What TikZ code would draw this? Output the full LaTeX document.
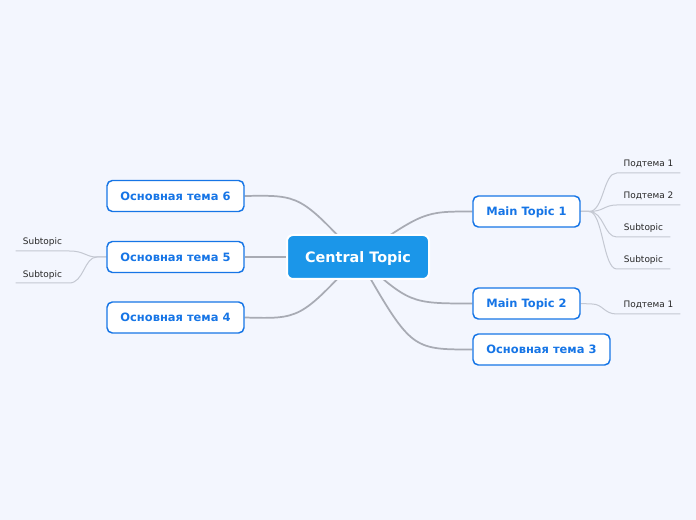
\documentclass[tikz,border=0pt]{standalone}
\usepackage{fontspec}
\setmainfont{DejaVu Sans}
\definecolor{bgc}{RGB}{243,246,254}
\definecolor{mainblue}{RGB}{22,117,230}
\definecolor{ctrblue}{RGB}{27,150,233}
\definecolor{conn}{RGB}{168,171,180}
\definecolor{subconn}{RGB}{196,200,210}
\definecolor{subtext}{RGB}{40,40,40}
\pgfdeclarelayer{bglayer}
\pgfdeclarelayer{lines}
\pgfsetlayers{bglayer,lines,main}
\begin{document}
\begin{tikzpicture}[x=0.75pt,y=-0.75pt,
 central/.style={fill=ctrblue,draw=white,line width=1.5pt,rounded corners=4.5pt,minimum width=106.5pt,minimum height=33pt,text=white,font=\bfseries\fontsize{10.8}{13}\selectfont,inner sep=0pt,text height=7.87pt,text depth=0pt},
 topic/.style={fill=white,draw=mainblue,line width=1.1pt,rounded corners=4pt,minimum height=23.25pt,text=mainblue,font=\bfseries\fontsize{8.6}{10}\selectfont,inner sep=0pt,text height=6.27pt,text depth=0pt},
 subnode/.style={anchor=south,inner xsep=0pt,inner ysep=4.3pt,text depth=0pt,text=subtext,font=\fontsize{6.7}{8}\selectfont},
 mainline/.style={draw=conn,line width=1.3pt},
 subline/.style={draw=subconn,line width=0.75pt}]
\begin{pgfonlayer}{bglayer}
\fill[bgc] (0,0) rectangle (696,520);
\end{pgfonlayer}
\useasboundingbox (0,0) rectangle (696,520);

% central and main topics
\node[central] (c) at (358,257) {Central Topic};
\node[topic,minimum width=80.25pt] (m1) at (526.5,211.5) {Main Topic 1};
\node[topic,minimum width=80.25pt] (m2) at (526.5,303.5) {Main Topic 2};
\node[topic,minimum width=102.75pt] (m3) at (541.5,349.5) {Основная тема 3};
\node[topic,minimum width=102.75pt] (m6) at (175.5,196) {Основная тема 6};
\node[topic,minimum width=102.75pt] (m5) at (175.5,257) {Основная тема 5};
\node[topic,minimum width=102.75pt] (m4) at (175.5,317.5) {Основная тема 4};

% subtopics (anchored at their underline)
\node[subnode,minimum width=47.25pt] (s11) at (648.5,173) {Подтема 1};
\node[subnode,minimum width=47.25pt] (s12) at (648.5,205) {Подтема 2};
\node[subnode,minimum width=39.75pt] (s13) at (643.5,237) {Subtopic};
\node[subnode,minimum width=39.75pt] (s14) at (643.5,269) {Subtopic};
\node[subnode,minimum width=47.25pt] (s21) at (648.5,314) {Подтема 1};
\node[subnode,minimum width=39.75pt] (s51) at (42.5,251) {Subtopic};
\node[subnode,minimum width=39.75pt] (s52) at (42.5,283) {Subtopic};

\coordinate (j1) at (589,211.5);
\coordinate (j2) at (592,304);
\coordinate (j5) at (97,257);

\begin{pgfonlayer}{lines}
\draw[mainline] (c.center) .. controls (424,211.5) .. (m1.west);
\draw[mainline] (c.center) .. controls (410,303.5) .. (m2.west);
\draw[mainline] (c.center) .. controls (411,349.5) .. (m3.west);
\draw[mainline] (c.center) .. controls (300,195) .. (m6.east);
\draw[mainline] (c.center) -- (m5.east);
\draw[mainline] (c.center) .. controls (300,319) .. (m4.east);

\draw[subline] (m1.east) -- (j1) .. controls (604,211.5) and (603,173) .. (s11.south west) -- (s11.south east);
\draw[subline] (m1.east) -- (j1) .. controls (604,211.5) and (604,205) .. (s12.south west) -- (s12.south east);
\draw[subline] (m1.east) -- (j1) .. controls (604,211.5) and (604,237) .. (s13.south west) -- (s13.south east);
\draw[subline] (m1.east) -- (j1) .. controls (603,211.5) and (603,269) .. (s14.south west) -- (s14.south east);
\draw[subline] (m2.east) -- (j2) .. controls (603,304) and (604,314) .. (s21.south west) -- (s21.south east);
\draw[subline] (m5.west) -- (j5) .. controls (85,257) and (85,251) .. (s51.south east) -- (s51.south west);
\draw[subline] (m5.west) -- (j5) .. controls (84,257) and (84,283) .. (s52.south east) -- (s52.south west);
\end{pgfonlayer}
\end{tikzpicture}
\end{document}
